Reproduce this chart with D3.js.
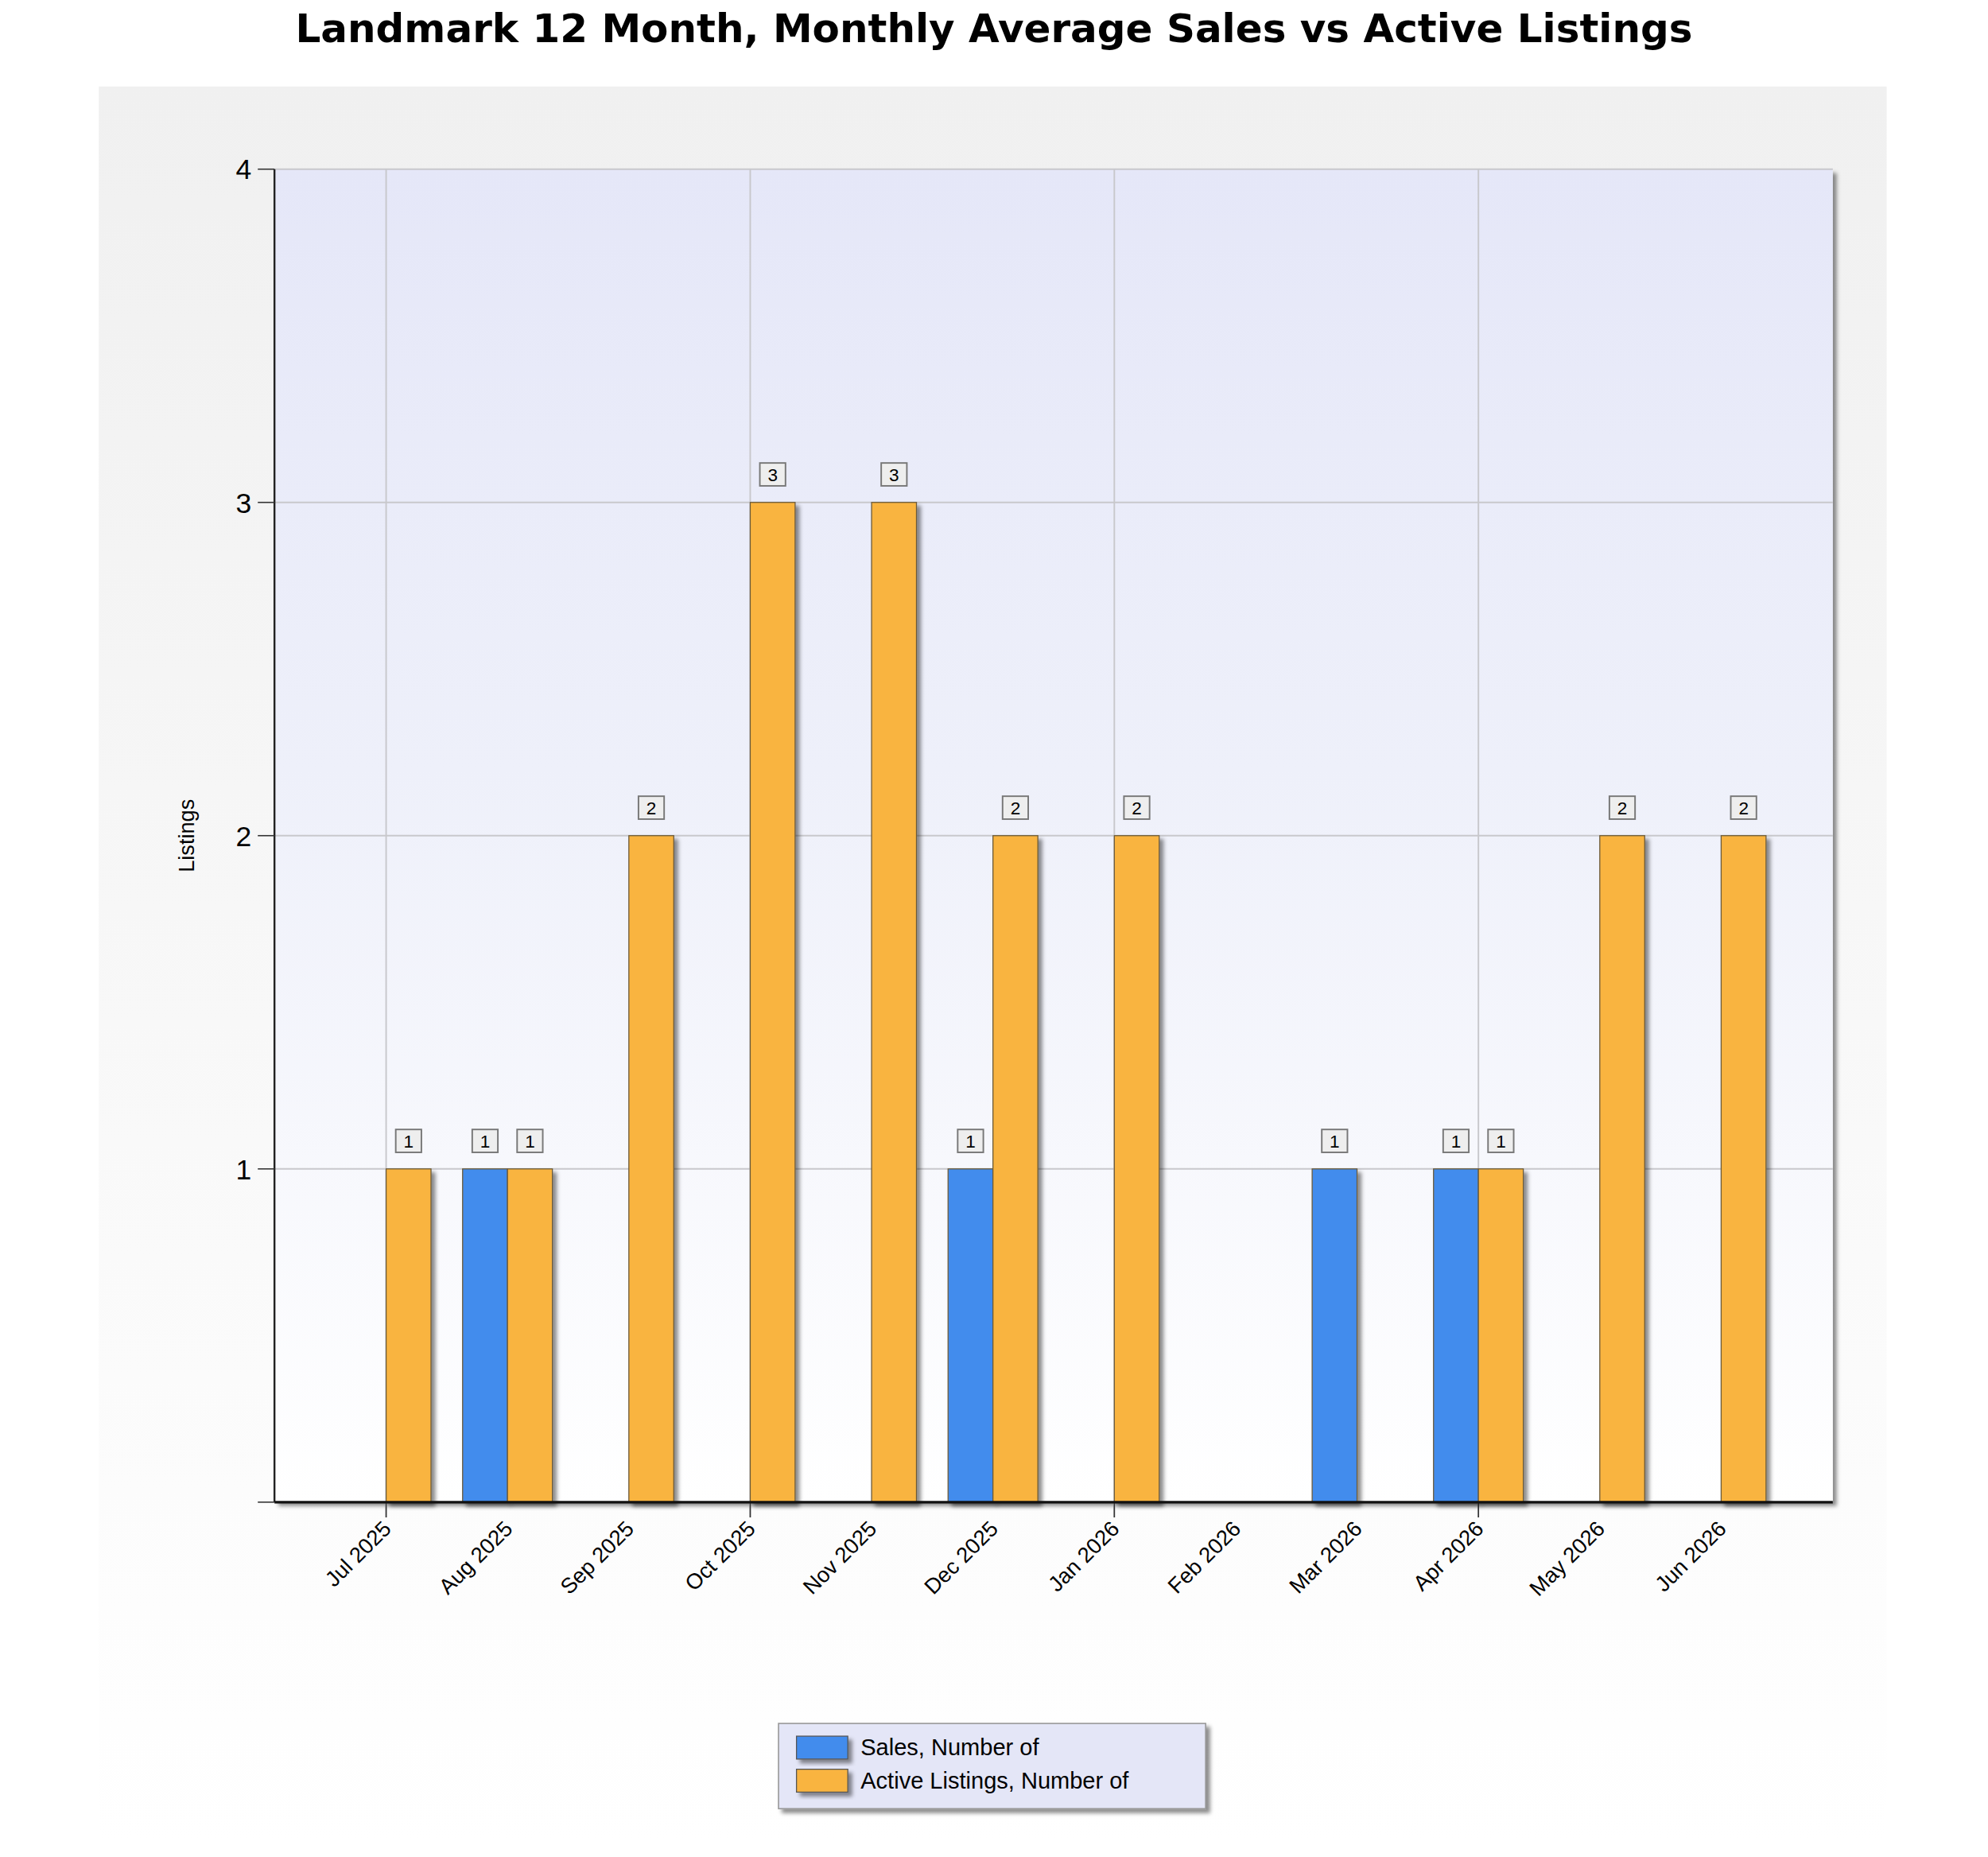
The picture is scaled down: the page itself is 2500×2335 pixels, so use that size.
<!DOCTYPE html>
<html>
<head>
<meta charset="utf-8">
<script src="https://cdn.jsdelivr.net/npm/d3@7"></script>
<style>
  body { margin: 0; background: #fff; }
  text { font-family: "Liberation Sans", Arial, sans-serif; }
</style>
</head>
<body>
<div class="content"></div>
<script>
//--> Data
const months = ["Jul 2025", "Aug 2025", "Sep 2025", "Oct 2025", "Nov 2025", "Dec 2025",
  "Jan 2026", "Feb 2026", "Mar 2026", "Apr 2026", "May 2026", "Jun 2026"];
const sales = [0, 1, 0, 0, 0, 1, 0, 0, 1, 1, 0, 0];
const activeListings = [1, 1, 2, 3, 3, 2, 2, 0, 0, 1, 2, 2];
const yTicks = [0, 1, 2, 3, 4];
const seriesNames = ["Sales, Number of", "Active Listings, Number of"];

//--> Constants (layout in a 1550 x 1460 design space, stretched to 2500 x 2335)
const W = 1550, H = 1460;
const plot = { left: 214, right: 1429, top: 133, bottom: 1181 };
const barWidth = 35;
const colors = ["#428ced", "#f9b43f"];

const svg = d3.select(".content").append("svg")
  .attr("width", 2500).attr("height", 2335)
  .attr("viewBox", `0 0 ${W} ${H}`)
  .attr("preserveAspectRatio", "none");

const defs = svg.append("defs");
const bgGrad = defs.append("linearGradient").attr("id", "bg").attr("x1", 0).attr("y1", 0).attr("x2", 0).attr("y2", 1);
bgGrad.append("stop").attr("offset", "0%").attr("stop-color", "#f0f0f0");
bgGrad.append("stop").attr("offset", "100%").attr("stop-color", "#ffffff");
const plotGrad = defs.append("linearGradient").attr("id", "plotbg").attr("x1", 0).attr("y1", 0).attr("x2", 0).attr("y2", 1);
plotGrad.append("stop").attr("offset", "0%").attr("stop-color", "#e5e7f8");
plotGrad.append("stop").attr("offset", "45%").attr("stop-color", "#eef0fa");
plotGrad.append("stop").attr("offset", "100%").attr("stop-color", "#ffffff");
const shadow = defs.append("filter").attr("id", "shadow").attr("x", "-20%").attr("y", "-20%").attr("width", "150%").attr("height", "150%");
shadow.append("feDropShadow").attr("dx", 3).attr("dy", 3).attr("stdDeviation", 1.5)
  .attr("flood-color", "#000").attr("flood-opacity", 0.45);

//--> Backgrounds
svg.append("rect").attr("x", 77).attr("y", 68).attr("width", 1394).attr("height", 1380).attr("fill", "url(#bg)");

svg.append("text").attr("x", 775).attr("y", 33).attr("text-anchor", "middle")
  .style("font-family", "'DejaVu Sans', Verdana, sans-serif")
  .attr("font-weight", "bold").attr("font-size", 31)
  .text("Landmark 12 Month, Monthly Average Sales vs Active Listings");

svg.append("rect").attr("x", plot.left).attr("y", plot.top)
  .attr("width", plot.right - plot.left).attr("height", plot.bottom - plot.top)
  .attr("fill", "url(#plotbg)").attr("filter", "url(#shadow)");

//--> Scales
const x = d3.scalePoint().domain(months).range([plot.left, plot.right]).padding(0.92);
const y = d3.scaleLinear().domain([0, 4]).range([plot.bottom, plot.top]);

//--> Grid
const grid = svg.append("g");
grid.selectAll("line.h").data(yTicks.slice(1)).enter().append("line")
  .attr("x1", plot.left).attr("x2", plot.right)
  .attr("y1", d => y(d)).attr("y2", d => y(d))
  .attr("stroke", "#c8c8cc").attr("stroke-width", 1.2);
const vMonths = months.filter((d, i) => i % 3 === 0);
grid.selectAll("line.v").data(vMonths).enter().append("line")
  .attr("x1", d => x(d)).attr("x2", d => x(d))
  .attr("y1", plot.top).attr("y2", plot.bottom + 12)
  .attr("stroke", "#c8c8cc").attr("stroke-width", 1.2);
grid.selectAll("line.vt").data(vMonths).enter().append("line")
  .attr("x1", d => x(d)).attr("x2", d => x(d))
  .attr("y1", plot.bottom).attr("y2", plot.bottom + 12)
  .attr("stroke", "#333").attr("stroke-width", 1);

//--> Bars
const bars = [];
months.forEach((m, i) => {
  if (sales[i] > 0) bars.push({ m, v: sales[i], s: 0 });
  if (activeListings[i] > 0) bars.push({ m, v: activeListings[i], s: 1 });
});
svg.append("g").selectAll("rect").data(bars).enter().append("rect")
  .attr("x", d => d.s === 0 ? x(d.m) - barWidth : x(d.m))
  .attr("y", d => y(d.v))
  .attr("width", barWidth)
  .attr("height", d => y(0) - y(d.v))
  .attr("fill", d => colors[d.s])
  .attr("stroke", "#6b5a3a").attr("stroke-width", 0.8)
  .attr("filter", "url(#shadow)");

//--> Value labels
const labels = svg.append("g").selectAll("g").data(bars).enter().append("g")
  .attr("transform", d => `translate(${(d.s === 0 ? x(d.m) - barWidth / 2 : x(d.m) + barWidth / 2)}, ${y(d.v) - 22})`);
labels.append("rect").attr("x", -10).attr("y", -9).attr("width", 20).attr("height", 18)
  .attr("fill", "#eeeeee").attr("stroke", "#777").attr("stroke-width", 1.2);
labels.append("text").attr("text-anchor", "middle").attr("dy", 5).attr("font-size", 14)
  .text(d => d.v);

//--> Axes
svg.append("line").attr("x1", plot.left).attr("x2", plot.left).attr("y1", plot.top).attr("y2", plot.bottom)
  .attr("stroke", "#222").attr("stroke-width", 1.5);
svg.append("line").attr("x1", plot.left).attr("x2", plot.right).attr("y1", plot.bottom).attr("y2", plot.bottom)
  .attr("stroke", "#111").attr("stroke-width", 2);

const yAxis = svg.append("g");
yAxis.selectAll("line").data(yTicks).enter().append("line")
  .attr("x1", plot.left - 13).attr("x2", plot.left)
  .attr("y1", d => y(d)).attr("y2", d => y(d)).attr("stroke", "#333");
yAxis.selectAll("text").data(yTicks.slice(1)).enter().append("text")
  .attr("x", plot.left - 18).attr("y", d => y(d) + 8)
  .attr("text-anchor", "end").attr("font-size", 22).text(d => d);

svg.append("text").attr("transform", "translate(151, 657) rotate(-90)")
  .attr("text-anchor", "middle").attr("font-size", 17).text("Listings");

svg.append("g").selectAll("text").data(months).enter().append("text")
  .attr("transform", d => `translate(${x(d) + 5}, ${plot.bottom + 22}) rotate(-45)`)
  .attr("text-anchor", "end").attr("font-size", 17).text(d => d);

//--> Legend
const legend = svg.append("g").attr("transform", "translate(607, 1355)");
legend.append("rect").attr("width", 333).attr("height", 67)
  .attr("fill", "#e4e6f7").attr("stroke", "#999").attr("filter", "url(#shadow)");
const items = legend.selectAll("g").data(seriesNames).enter().append("g")
  .attr("transform", (d, i) => `translate(14, ${10 + i * 26})`);
items.append("rect").attr("width", 40).attr("height", 18)
  .attr("fill", (d, i) => colors[i]).attr("stroke", "#555").attr("stroke-width", 0.8)
  .attr("filter", "url(#shadow)");
items.append("text").attr("x", 50).attr("y", 15).attr("font-size", 18).text(d => d);
</script>
</body>
</html>
